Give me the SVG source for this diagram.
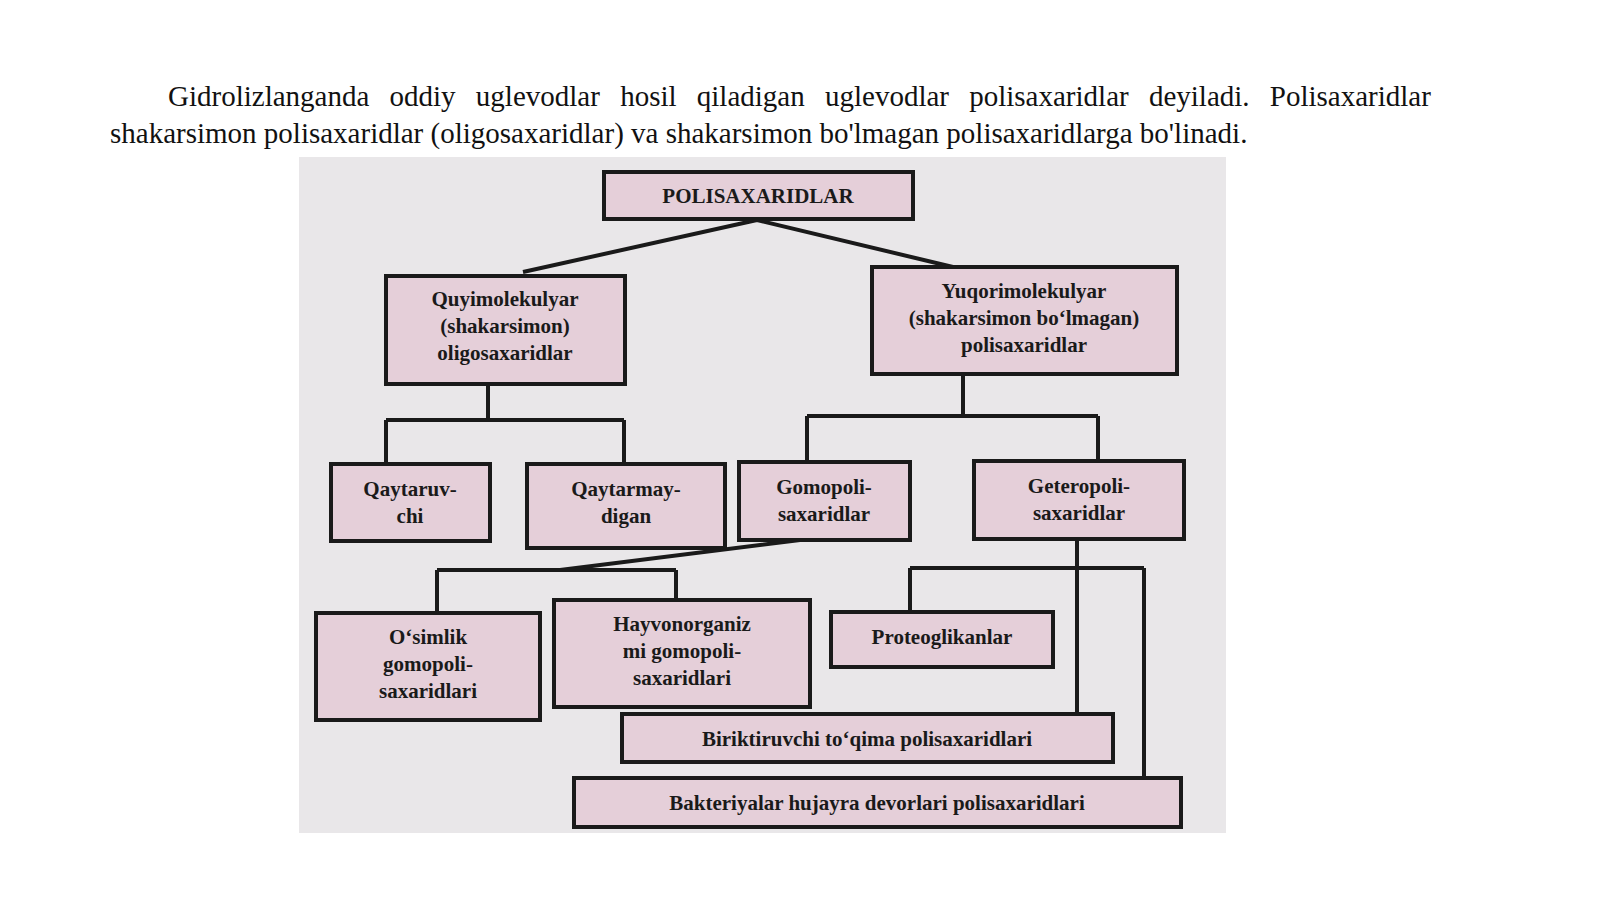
<svg xmlns="http://www.w3.org/2000/svg" width="1600" height="899" viewBox="0 0 1600 899">
<style>
.p{font-family:"Liberation Serif",serif;font-size:29px;fill:#111}
.b rect{fill:#e5cfd9;stroke:#1a1a1a;stroke-width:4}
.b text{font-family:"Liberation Serif",serif;font-weight:bold;font-size:21px;fill:#1a1a1a;text-anchor:middle}
.c{stroke:#1a1a1a;stroke-width:4;fill:none}
</style>
<rect width="1600" height="899" fill="#fff"/>
<text class="p" x="168" y="106" word-spacing="13">Gidrolizlanganda oddiy uglevodlar hosil qiladigan uglevodlar polisaxaridlar deyiladi. Polisaxaridlar</text>
<text class="p" x="110" y="143">shakarsimon polisaxaridlar (oligosaxaridlar) va shakarsimon bo'lmagan polisaxaridlarga bo'linadi.</text>
<rect x="299" y="157" width="927" height="676" fill="#e9e7e9"/>
<g id="connectors" class="c">
<path d="M757 220L523 272M757 220L953 267"/>
<path d="M488 384V420M386 420H624M386 420V464M624 420V464"/>
<path d="M963 375V416M807 416H1098M807 416V462M1098 416V461"/>
<path d="M800 540L560 570M437 570H676M437 570V613M676 570V600"/>
<path d="M1077 539V714M910 568H1144M910 568V612M1144 568V778"/>
</g>
<g id="n1" class="b"><rect x="604" y="172" width="309" height="47"/><text x="758" y="203">POLISAXARIDLAR</text></g>
<g id="n2" class="b"><rect x="386" y="276" width="239" height="108"/><text x="505" y="306">Quyimolekulyar</text><text x="505" y="333">(shakarsimon)</text><text x="505" y="360">oligosaxaridlar</text></g>
<g id="n3" class="b"><rect x="872" y="267" width="305" height="107"/><text x="1024" y="298">Yuqorimolekulyar</text><text x="1024" y="325">(shakarsimon bo‘lmagan)</text><text x="1024" y="352">polisaxaridlar</text></g>
<g id="n4" class="b"><rect x="331" y="464" width="159" height="77"/><text x="410" y="496">Qaytaruv-</text><text x="410" y="523">chi</text></g>
<g id="n5" class="b"><rect x="527" y="464" width="198" height="84"/><text x="626" y="496">Qaytarmay-</text><text x="626" y="523">digan</text></g>
<g id="n6" class="b"><rect x="739" y="462" width="171" height="78"/><text x="824" y="494">Gomopoli-</text><text x="824" y="521">saxaridlar</text></g>
<g id="n7" class="b"><rect x="974" y="461" width="210" height="78"/><text x="1079" y="493">Geteropoli-</text><text x="1079" y="520">saxaridlar</text></g>
<g id="n8" class="b"><rect x="316" y="613" width="224" height="107"/><text x="428" y="644">O‘simlik</text><text x="428" y="671">gomopoli-</text><text x="428" y="698">saxaridlari</text></g>
<g id="n9" class="b"><rect x="554" y="600" width="256" height="107"/><text x="682" y="631">Hayvonorganiz</text><text x="682" y="658">mi gomopoli-</text><text x="682" y="685">saxaridlari</text></g>
<g id="n10" class="b"><rect x="831" y="612" width="222" height="55"/><text x="942" y="644">Proteoglikanlar</text></g>
<g id="n11" class="b"><rect x="622" y="714" width="491" height="48"/><text x="867" y="746">Biriktiruvchi to‘qima polisaxaridlari</text></g>
<g id="n12" class="b"><rect x="574" y="778" width="607" height="49"/><text x="877" y="810">Bakteriyalar hujayra devorlari polisaxaridlari</text></g>
</svg>
